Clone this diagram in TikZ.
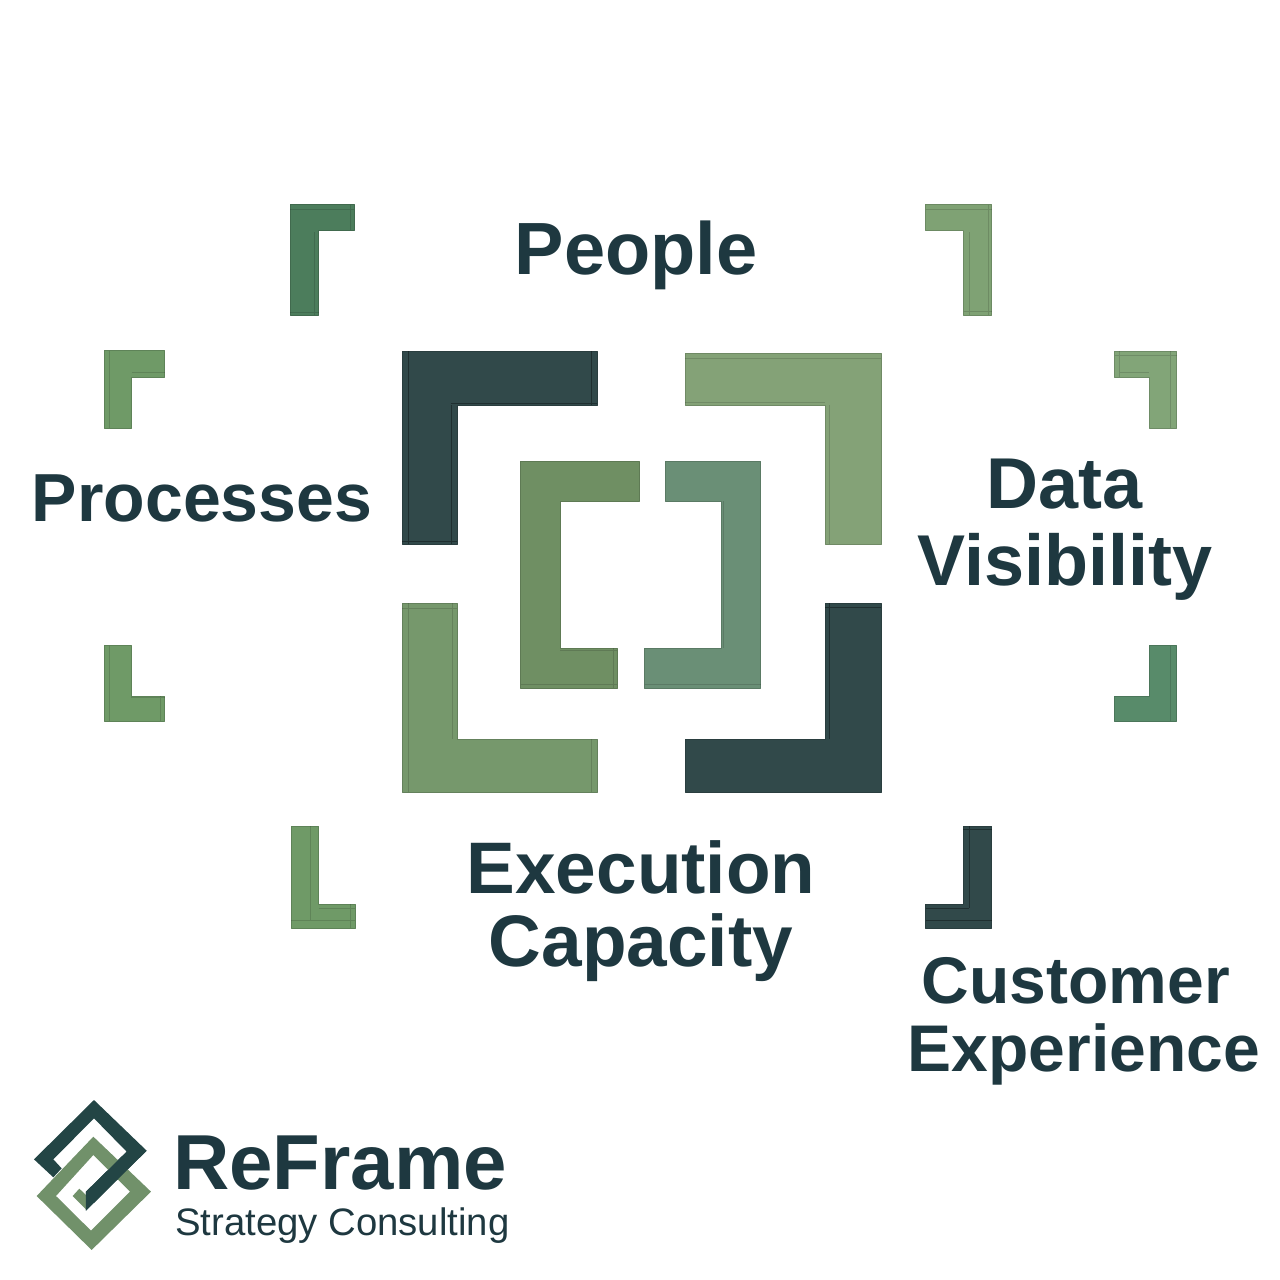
\documentclass[tikz,border=0pt]{standalone}
\usepackage{fontspec}
\setmainfont{Liberation Sans}
\definecolor{ink}{HTML}{1E3840}
\definecolor{dark}{HTML}{31494A}
\definecolor{lightg}{HTML}{84A277}
\definecolor{midg}{HTML}{76986C}
\definecolor{innerl}{HTML}{6F8F63}
\definecolor{innerr}{HTML}{6A8F76}
\definecolor{sA}{HTML}{4C7D5C}
\definecolor{sB}{HTML}{6F9A67}
\definecolor{sC}{HTML}{7FA274}
\definecolor{sD}{HTML}{82A578}
\definecolor{sE}{HTML}{588B6A}
\definecolor{logod}{HTML}{234545}
\definecolor{logog}{HTML}{71916A}
\newcommand{\sz}[2]{\fontsize{#1}{#2}\selectfont}
\tikzset{
  x=1pt,y=-1pt,
  piece/.style={line width=0.6pt,line join=round,draw=#1!85!black,fill=#1},
  bevel/.style={draw=black,opacity=0.14,line width=0.9pt},
  lab/.style={text=ink,inner sep=0pt,align=center},
}
\begin{document}
\begin{tikzpicture}
\useasboundingbox (0,0) rectangle (1280,1280);
% large corners
\draw[piece=dark] (402,351)--(597,351)--(597,405)--(457,405)--(457,544)--(402,544)--cycle;
\draw[bevel,opacity=.35] (408,351)--(408,544) (402,541)--(457,541) (451,405)--(451,544) (451,403)--(597,403) (591,351)--(591,405);
\draw[piece=lightg] (685,353)--(881,353)--(881,544)--(825,544)--(825,405)--(685,405)--cycle;
\draw[bevel] (685,358)--(881,358) (829,405)--(829,544) (685,402)--(825,402);
\draw[piece=midg] (402,603)--(457,603)--(457,739)--(597,739)--(597,792)--(402,792)--cycle;
\draw[bevel] (408,603)--(408,792) (402,608)--(457,608) (452,603)--(452,739) (591,739)--(591,792);
\draw[piece=dark] (825,603)--(881,603)--(881,792)--(685,792)--(685,739)--(825,739)--cycle;
\draw[bevel,opacity=.35] (829,603)--(829,739) (825,607)--(881,607);
% inner brackets
\draw[piece=innerl] (520.5,461)--(639,461)--(639,501)--(560,501)--(560,648)--(617,648)--(617,688)--(520.5,688)--cycle;
\draw[bevel] (613,648)--(613,688) (520.5,684)--(617,684) (560,650)--(617,650);
\draw[piece=innerr] (665.5,461)--(760.5,461)--(760.5,688)--(644.5,688)--(644.5,648)--(721,648)--(721,501)--(665.5,501)--cycle;
\draw[bevel] (644.5,684)--(760.5,684) (723,501)--(723,648);
% small corners
\draw[piece=sA] (290,204.5)--(354,204.5)--(354,230)--(318.5,230)--(318.5,315)--(290,315)--cycle;
\draw[bevel] (290,209)--(354,209) (350,204.5)--(350,230) (314,232)--(314,315) (290,312)--(318.5,312);
\draw[piece=sB] (104.5,350.5)--(164.5,350.5)--(164.5,377)--(131.5,377)--(131.5,428)--(104.5,428)--cycle;
\draw[bevel] (109,350.5)--(109,428) (131.5,372.5)--(164.5,372.5);
\draw[piece=sC] (925.5,204.5)--(991.5,204.5)--(991.5,315)--(963.5,315)--(963.5,230)--(925.5,230)--cycle;
\draw[bevel] (925.5,209)--(991.5,209) (969,232)--(969,315) (963.5,311)--(991.5,311) (988,204.5)--(988,315);
\draw[piece=sD] (1114.5,351)--(1176.5,351)--(1176.5,428)--(1149,428)--(1149,377)--(1114.5,377)--cycle;
\draw[bevel] (1114.5,355)--(1176.5,355) (1119,351)--(1119,377) (1170,351)--(1170,428) (1119,372)--(1149,372);
\draw[piece=sB] (104.5,645.5)--(131,645.5)--(131,696)--(164.5,696)--(164.5,721)--(104.5,721)--cycle;
\draw[bevel] (109.5,645.5)--(109.5,721) (160,696)--(160,721) (131,697.5)--(164.5,697.5);
\draw[piece=sB] (291,826)--(318.5,826)--(318.5,904)--(355,904)--(355,928)--(291,928)--cycle;
\draw[bevel] (310,826)--(310,920) (291,920)--(355,920) (318.5,908)--(355,908) (350,904)--(350,928);
\draw[piece=sE] (1149,645.5)--(1176.5,645.5)--(1176.5,721)--(1114.5,721)--(1114.5,696)--(1149,696)--cycle;
\draw[bevel] (1170,645.5)--(1170,721);
\draw[piece=dark] (963,826)--(991.5,826)--(991.5,928)--(925.5,928)--(925.5,904)--(963,904)--cycle;
\draw[bevel,opacity=.35] (969,826)--(969,908) (925.5,908)--(969,908) (925.5,920)--(991.5,920) (963,829)--(991.5,829);
% labels
\node[lab,font=\bfseries\sz{74}{80}] (people) at (636,255) {People};
\node[lab,font=\bfseries\sz{68}{74}] (processes) at (202,498) {Processes};
\node[lab,font=\bfseries\sz{72}{77}] (data) at (1065,530) {Data\\Visibility};
\node[lab,font=\bfseries\sz{73}{73}] (execution) at (641,911) {Execution\\Capacity};
\node[lab,font=\bfseries\sz{66}{68}] (customer) at (1084,1021) {\hspace*{-16pt}Customer\\Experience};
% logo
\begin{scope}[shift={(20,1090)},scale=0.3333]
\fill[logod] (42,208)--(222,30)--(380,182)--(198,362)--(198,305)--(320,185)--(222,85)--(100,208)--(125,235)--(100,262)--cycle;
\fill[logog] (158,318)--(178,296)--(198,315)--(198,358)--cycle;
\fill[logog,even odd rule] (220,140)--(393,305)--(215,480)--(50,318)--cycle (220,195)--(108,318)--(213,422)--(330,305)--cycle;
\fill[logod] (322,183)--(380,182)--(198,362)--(198,305)--cycle;
\end{scope}
\node[lab,anchor=west,font=\bfseries\sz{78}{80}] (reframe) at (173,1163) {ReFrame};
\node[lab,anchor=west,font=\sz{38.3}{38}] (strategy) at (175,1226) {Strategy Consulting};
\end{tikzpicture}
\end{document}
